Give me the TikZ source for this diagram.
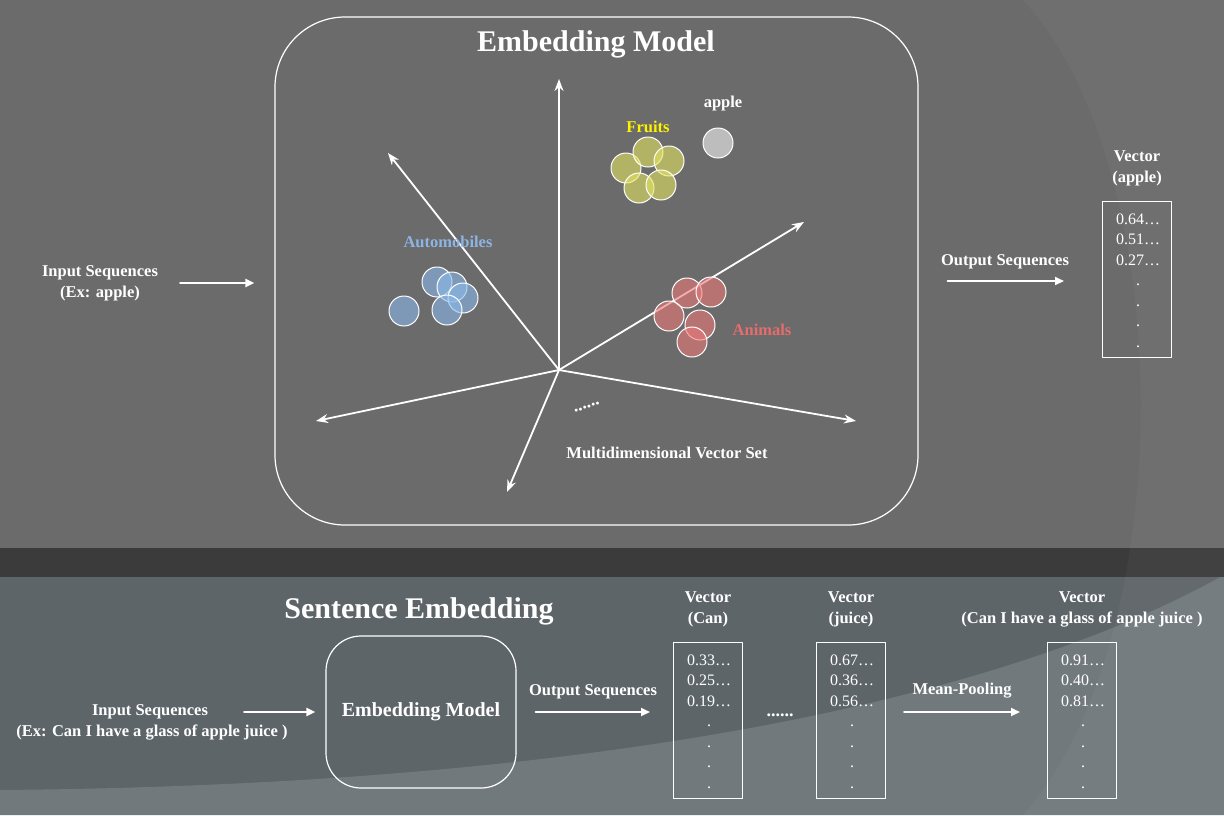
\documentclass[tikz,border=0pt]{standalone}
\usepackage{fontspec}
\setmainfont{Liberation Serif}
\usetikzlibrary{arrows.meta}
\definecolor{topgray}{RGB}{107,107,107}
\definecolor{bandgray}{RGB}{59,59,59}
\definecolor{botdark}{RGB}{94,101,105}
\definecolor{botlight}{RGB}{114,121,125}
\definecolor{fruitc}{RGB}{227,227,99}
\definecolor{autoc}{RGB}{137,185,234}
\definecolor{animalc}{RGB}{235,119,119}
\definecolor{applec}{RGB}{189,189,189}
\definecolor{autolbl}{RGB}{141,180,226}
\definecolor{animallbl}{RGB}{232,108,108}
\tikzset{
  lbl/.style={font=\bfseries\fontsize{16.5}{21}\selectfont, text=white, align=center, inner sep=2pt},
  num/.style={font=\fontsize{16}{20}\selectfont, text=white, inner sep=0pt},
  dots/.style={font=\bfseries\fontsize{18}{20}\selectfont, text=white, inner sep=0pt},
  vecbox/.style={draw=white, line width=1pt, minimum width=69pt, minimum height=156pt},
  flow/.style={white, line width=2pt, -{Triangle[length=9pt,width=8pt]}},
  axis/.style={white, line width=1.8pt, -{Stealth[length=12pt,width=9pt]}},
  blob/.style={draw=white, line width=1pt, fill opacity=.6},
}
\begin{document}
\begin{tikzpicture}[x=1pt, y=-1pt, line join=round, line cap=round]
  \useasboundingbox (0,0) rectangle (1224,815);
  % background
  \fill[topgray] (0,0) rectangle (1224,548);
  \fill[botdark] (0,577) rectangle (1224,815);
  \fill[botlight] (0,790) .. controls (600,785) and (1000,700) .. (1224,575) -- (1224,815) -- (0,815) -- cycle;
  \fill[bandgray] (0,548) rectangle (1224,577);
  \fill[white, opacity=.03] (1023,0) .. controls (1180,170) and (1180,640) .. (1023,815) -- (1224,815) -- (1224,0) -- cycle;

  % embedding model, top
  \node[draw=white, line width=1.2pt, rounded corners=70pt, minimum width=643pt, minimum height=508pt] (model) at (596.5,271) {};
  \node[font=\bfseries\fontsize{30}{34}\selectfont, text=white] (title) at (596,44) {Embedding Model};

  \path
  (559,370) coordinate (O)
  (559,79) coordinate (ax1)
  (388,153) coordinate (ax2)
  (804,222) coordinate (ax3)
  (316,421) coordinate (ax4)
  (856,421) coordinate (ax5)
  (507,492) coordinate (ax6)
  ;
  \foreach \a in {ax1,ax2,ax3,ax4,ax5,ax6}
  \draw[axis] (O) -- (\a);
  \node[dots, rotate=20] (more) at (587,407) {......};
  \node[lbl] (set) at (667,453) {Multidimensional Vector Set};

  % clusters
  \foreach \x/\y in {626/168,648/152,669/161,639/188,661/185}
  \path[blob, fill=fruitc] (\x,\y) circle (15pt);
  \foreach \x/\y in {404/311,437/282,452/287,463/298,447/310}
  \path[blob, fill=autoc] (\x,\y) circle (15pt);
  \foreach \x/\y in {687/293,711/292,669/316,700/325,692/342}
  \path[blob, fill=animalc] (\x,\y) circle (15pt);
  \path[draw=white, line width=1pt, fill=applec] (718,143) circle (15pt);
  \node[lbl, text=yellow] (fruits) at (648,127) {Fruits};
  \node[lbl] (apple) at (723,104) {apple};
  \node[lbl, text=autolbl] (autos) at (448,242) {Automobiles};
  \node[lbl, text=animallbl] (animals) at (762,330) {Animals};

  % vectors
  \foreach \n/\x/\y/\lab/\a/\b/\c in {vA/1137/279/(apple)/0.64/0.51/0.27,
    vCan/708/720/(Can)/0.33/0.25/0.19,
    vJuice/851/720/(juice)/0.67/0.36/0.56,
    vMean/1082/720/(Can I have a glass of apple juice )/0.91/0.40/0.81}
  {
    \node[vecbox] (\n) at (\x,\y) {};
    \node[lbl] (\n-lab) at ([yshift=32.5pt]\n.north) {Vector\\\lab};
    \foreach \v/\d [count=\i] in {\a…/18.5,\b…/39,\c…/60}
    \node[num] (\n-\i) at ([shift={(1pt,-\d pt)}]\n.north) {\v};
    \foreach \d [count=\i] in {84.5,105.5,125.5,146.5}
    \node[num, anchor=base] (\n-dot\i) at ([shift={(1pt,-\d pt)}]\n.north) {.};
  }

  % top connectors
  \node[lbl] (inA) at (100,283) {Input Sequences\\(Ex: apple)};
  \draw[flow] ([xshift=20pt]inA.east) -- ([xshift=-20pt]inA.east -| model.west);
  \draw[flow] ([shift={(29pt,-10pt)}]model.east) -- ([shift={(-38pt,-2pt)}]vA.west);
  \node[lbl] (outA) at (1005,262) {Output Sequences};

  % sentence embedding, bottom
  \node[font=\bfseries\fontsize{30}{34}\selectfont, text=white] (sent) at (419,611) {Sentence Embedding};
  \node[draw=white, line width=1.2pt, rounded corners=35pt, minimum width=190pt, minimum height=152pt,
    font=\bfseries\fontsize{20}{24}\selectfont, text=white] (emb) at (421,712) {Embedding Model};
  \node[lbl] (inB) at (150,712) {Input Sequences};
  \node[lbl] (inBex) at (152,732) {(Ex: Can I have a glass of apple juice )};
  \draw[flow] ([xshift=34pt]inB.east) -- ([xshift=-10pt]emb.west);
  \draw[flow] ([xshift=19pt]emb.east) -- ([xshift=-23pt]emb.east -| vCan.west);
  \node[lbl] (outB) at (593,692) {Output Sequences};
  \node[dots] (gap) at (780,715) {......};
  \draw[flow] ([xshift=18pt]emb.east -| vJuice.east) -- ([xshift=-27pt]emb.east -| vMean.west);
  \node[lbl] (pool) at (962,691) {Mean-Pooling};
\end{tikzpicture}
\end{document}
